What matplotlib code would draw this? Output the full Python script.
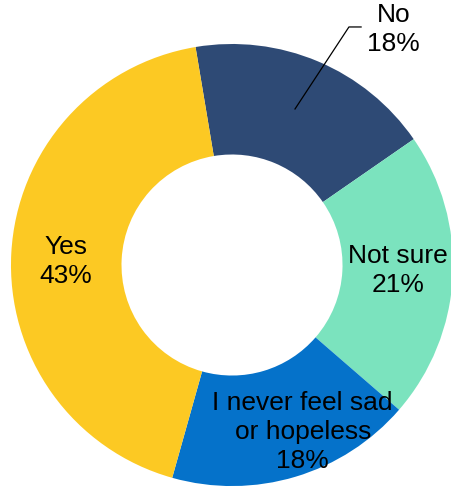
import matplotlib.pyplot as plt

plt.rcParams['font.family'] = ['Liberation Sans', 'DejaVu Sans']

labels = ['No', 'Not sure', 'I never feel sad\nor hopeless', 'Yes']
values = [18, 21, 18, 43]
colors = ['#2E4A75', '#7BE3BE', '#0572CA', '#FCC923']

fig = plt.figure(figsize=(4.52, 4.89), dpi=100)
ax = fig.add_axes([0.0243, 0.004, 0.978, 0.904])

ax.pie(values, colors=colors, startangle=99.5, counterclock=False,
       radius=1.0, wedgeprops=dict(width=0.5, linewidth=0))
ax.set_xlim(-1, 1)
ax.set_ylim(-1, 1)
ax.set_aspect('equal')
ax.axis('off')

# label spots in data units (pie radius = 1)
label_pos = [(0.73, 1.07), (0.75, -0.02), (0.32, -0.75), (-0.75, 0.02)]
for lab, val, (x, y) in zip(labels, values, label_pos):
    ax.text(x, y, f'{lab}\n{val}%', ha='center', va='center',
            fontsize=19, color='black', clip_on=False, linespacing=1.25)

# leader line for the "No" slice
ax.plot([0.285, 0.529, 0.584], [0.706, 1.077, 1.077], color='black',
        lw=0.9, clip_on=False)

fig.savefig('out.png', dpi=100)
